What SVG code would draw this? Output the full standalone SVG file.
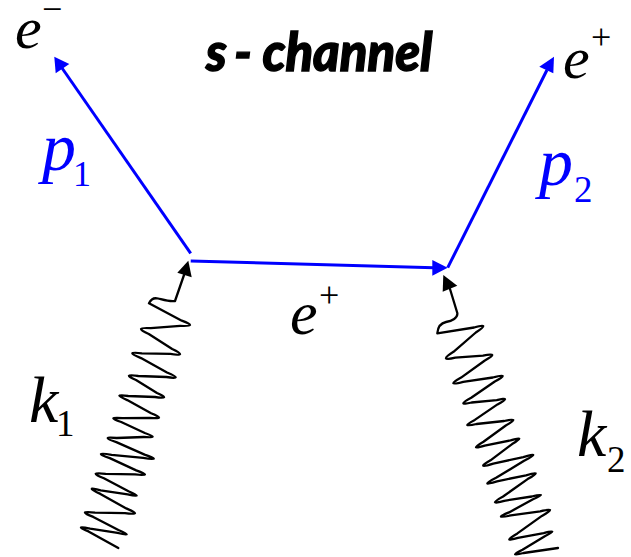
<svg xmlns="http://www.w3.org/2000/svg" width="631" height="557" viewBox="0 0 631 557">
<defs>
<style>
.m{font-family:"Liberation Serif","Times New Roman",serif;font-style:italic;fill:#000}
.n{font-family:"Liberation Serif","Times New Roman",serif;fill:#000}
.bh{fill:#00f}
.bl{fill:none;stroke:#00f;stroke-width:3}
.kh{fill:#000}
.w{fill:none;stroke:#000;stroke-width:2.3;stroke-linejoin:round;stroke-linecap:round}
.t{font-family:Lato,"Liberation Sans",sans-serif;font-style:italic;font-weight:900;font-size:54px;fill:#000;stroke:#000;stroke-width:1.4}
</style>
</defs>
<rect width="631" height="557" fill="#fff"/>
<g id="connectors">
<path class="bl" d="M190.7 253.3L62 68"/><path class="bh" d="M54.3 56.7L69.3 64L55.7 73.3Z"/>
<path class="bl" d="M190.7 261L434 267.7"/><path class="bh" d="M447.7 267.7L432.3 260L432.3 275.7Z"/>
<path class="bl" d="M447.7 267.7L547 70"/><path class="bh" d="M554 56.7L539.3 66.7L553.3 73.3Z"/>
<path id="wave1" class="w" d="M118.3 548L88.5 531.4Q72.7 524.5 90.1 528.7L117.6 532.9Q135.4 537.2 118.4 530L93.3 516.9Q75.8 510.2 95 512.7L125 513.1Q144.3 515.8 126.3 508.4L100.4 493.9Q82.9 485.9 100.7 490.3L127.7 494.4Q145.3 498.6 128.5 491.3L103.9 478.2Q86.7 471.5 105.6 473.9L135.1 474.4Q154.3 476.6 136.2 470.4L109.8 458.1Q91.3 451.5 111.6 454.9L143.2 457.8Q163.7 461.2 144.6 454.6L116.9 442.4Q98.6 436.4 116.7 438L143.7 437Q161.1 438.4 144.8 433L121.2 422Q104.8 416.5 122.4 418.2L149.9 417.8Q167.5 419.8 151.1 413.3L127.2 400.1Q110.9 393.3 128.2 396L155.1 397Q172 399.6 157 393L136 380Q120.8 373.4 138.3 376L166.4 377Q184.7 379.9 167 372.5L141 358.1Q123.2 350.8 141.8 353.4L170.5 353.9Q188.7 356.6 172.2 349L148.8 334Q132.2 326.9 150.8 328.2L180.2 325.8Q199 326.8 181.8 320.7L149 303.3Q152 297 158 298.5C164 300 170 302 175 301L184 275"/>
<path class="kh" d="M188.3 260.7L177.3 272.7L191.7 277.3Z"/>
<path id="wave2" class="w" d="M558 548L523.6 553Q507 557.2 522.5 549.8L544.8 536.2Q560.3 528.7 543.7 533.2L517.9 537.8Q500.9 543 517.4 533.4L541.9 515.9Q559 506.4 540.2 511.3L510.8 515.4Q492.1 519.5 509 512.4L533 499.3Q549.6 492.1 531.8 496.5L504.2 500.8Q486.3 505.9 503.1 496.5L527.6 479.1Q544.6 469.4 526 475.3L497 481.3Q477.9 487.1 496.5 477.6L524.1 460.7Q542.9 451.1 523.3 457.1L493.3 463.6Q474.7 469.5 490.5 460.3L512.1 444.1Q527.2 435.1 510.6 440.4L484.7 445.6Q467.9 450.9 483.5 441.8L505.8 425.5Q521.6 416.8 504.1 421L476.5 424Q458.9 428.1 474.8 419.9L497.5 404.4Q512.9 396.3 496.7 400.1L471.6 402.5Q455.2 406.4 471.2 397.8L494.8 381.5Q511.6 372.5 492.8 377.5L463.2 381.8Q444.5 386.9 461.1 377.6L484.5 360.7Q500.8 351.8 483 355.7L455.3 357.6Q437.6 361.9 453.5 351.8L475.8 332.5Q491.6 322 474.1 327.5L437.3 333.3C438 326 441 323 446 322C452 321 458 318 457.3 313L450 289"/>
<path class="kh" d="M443.3 275L442.7 291.7L457.3 285.7Z"/>
</g>
<g id="title"><text class="t" transform="translate(206 71) scale(.94 1)"><tspan x="0">s</tspan><tspan x="30" y="0">-</tspan><tspan x="60" y="0">channel</tspan></text></g>
<g id="e-minus"><text class="m" font-size="60" x="15" y="48">e</text><text class="n" font-size="36" x="42" y="21">−</text></g>
<g id="e-plus-out"><text class="m" font-size="60" x="563" y="78">e</text><text class="n" font-size="36" x="591" y="49">+</text></g>
<g id="p1"><text class="m" font-size="68" x="42" y="170" style="fill:#00f">p</text><text class="n" font-size="36" x="73" y="186" style="fill:#00f">1</text></g>
<g id="p2"><text class="m" font-size="68" x="539" y="185" style="fill:#00f">p</text><text class="n" font-size="37" x="574" y="202" style="fill:#00f">2</text></g>
<g id="e-plus-mid"><text class="m" font-size="62" x="290" y="334">e</text><text class="n" font-size="36" x="319" y="307">+</text></g>
<g id="k1"><text class="m" font-size="66" x="29" y="422">k</text><text class="n" font-size="37" x="56" y="436">1</text></g>
<g id="k2"><text class="m" font-size="66" x="577" y="456">k</text><text class="n" font-size="37" x="607" y="472">2</text></g>
</svg>
